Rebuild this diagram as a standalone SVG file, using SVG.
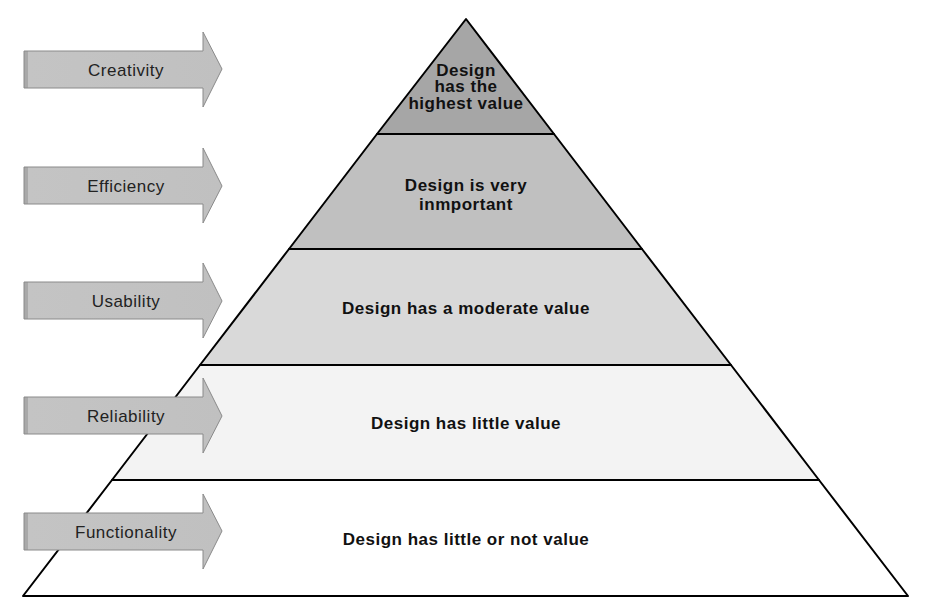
<svg xmlns="http://www.w3.org/2000/svg" width="928" height="607" viewBox="0 0 928 607">
  <defs>
    <linearGradient id="arrowFill" x1="0" y1="0" x2="1" y2="0">
      <stop offset="0" stop-color="#a9a9a9"/>
      <stop offset="0.018" stop-color="#a9a9a9"/>
      <stop offset="0.022" stop-color="#c4c4c4"/>
      <stop offset="1" stop-color="#c0c0c0"/>
    </linearGradient>
    <style>
      .tier { stroke: #000; stroke-width: 2; stroke-linejoin: round; }
      .tier-label { font-family: "Liberation Sans", sans-serif; font-size: 17px; letter-spacing: 0.5px; font-weight: bold; fill: #111; text-anchor: middle; }
      .arrow { fill: url(#arrowFill); stroke: #8a8a8a; stroke-width: 1; }
      .arrow-label { font-family: "Liberation Sans", sans-serif; font-size: 17px; letter-spacing: 0.5px; fill: #222; text-anchor: middle; }
    </style>
  </defs>
  <rect width="928" height="607" fill="#fff"/>

  <!-- pyramid tiers, bottom to top -->
  <g id="tier-functionality">
    <polygon class="tier" points="112,480 819,480 908,596 23,596" fill="#ffffff"/>
    <text class="tier-label" x="466" y="545">Design has little or not value</text>
  </g>
  <g id="tier-reliability">
    <polygon class="tier" points="200,365 731,365 819,480 112,480" fill="#f3f3f3"/>
    <text class="tier-label" x="466" y="429">Design has little value</text>
  </g>
  <g id="tier-usability">
    <polygon class="tier" points="289,249 642,249 731,365 200,365" fill="#d9d9d9"/>
    <text class="tier-label" x="466" y="314">Design has a moderate value</text>
  </g>
  <g id="tier-efficiency">
    <polygon class="tier" points="377,134 554,134 642,249 289,249" fill="#c0c0c0"/>
    <text class="tier-label" x="466" y="191">Design is very</text>
    <text class="tier-label" x="466" y="210">inmportant</text>
  </g>
  <g id="tier-creativity">
    <polygon class="tier" points="466,19 554,134 377,134" fill="#a6a6a6"/>
    <text class="tier-label" x="466" y="76">Design</text>
    <text class="tier-label" x="466" y="92">has the</text>
    <text class="tier-label" x="466" y="109">highest value</text>
  </g>

  <!-- side arrows -->
  <g id="arrow-creativity">
    <polygon class="arrow" points="24,51 203,51 203,32 222,69 203,107 203,88 24,88"/>
    <text class="arrow-label" x="126" y="76">Creativity</text>
  </g>
  <g id="arrow-efficiency">
    <polygon class="arrow" points="24,167 203,167 203,148 222,186 203,223 203,204 24,204"/>
    <text class="arrow-label" x="126" y="192">Efficiency</text>
  </g>
  <g id="arrow-usability">
    <polygon class="arrow" points="24,282 203,282 203,263 222,301 203,338 203,319 24,319"/>
    <text class="arrow-label" x="126" y="307">Usability</text>
  </g>
  <g id="arrow-reliability">
    <polygon class="arrow" points="24,397 203,397 203,378 222,416 203,453 203,434 24,434"/>
    <text class="arrow-label" x="126" y="422">Reliability</text>
  </g>
  <g id="arrow-functionality">
    <polygon class="arrow" points="24,513 203,513 203,494 222,531 203,569 203,550 24,550"/>
    <text class="arrow-label" x="126" y="538">Functionality</text>
  </g>
</svg>
